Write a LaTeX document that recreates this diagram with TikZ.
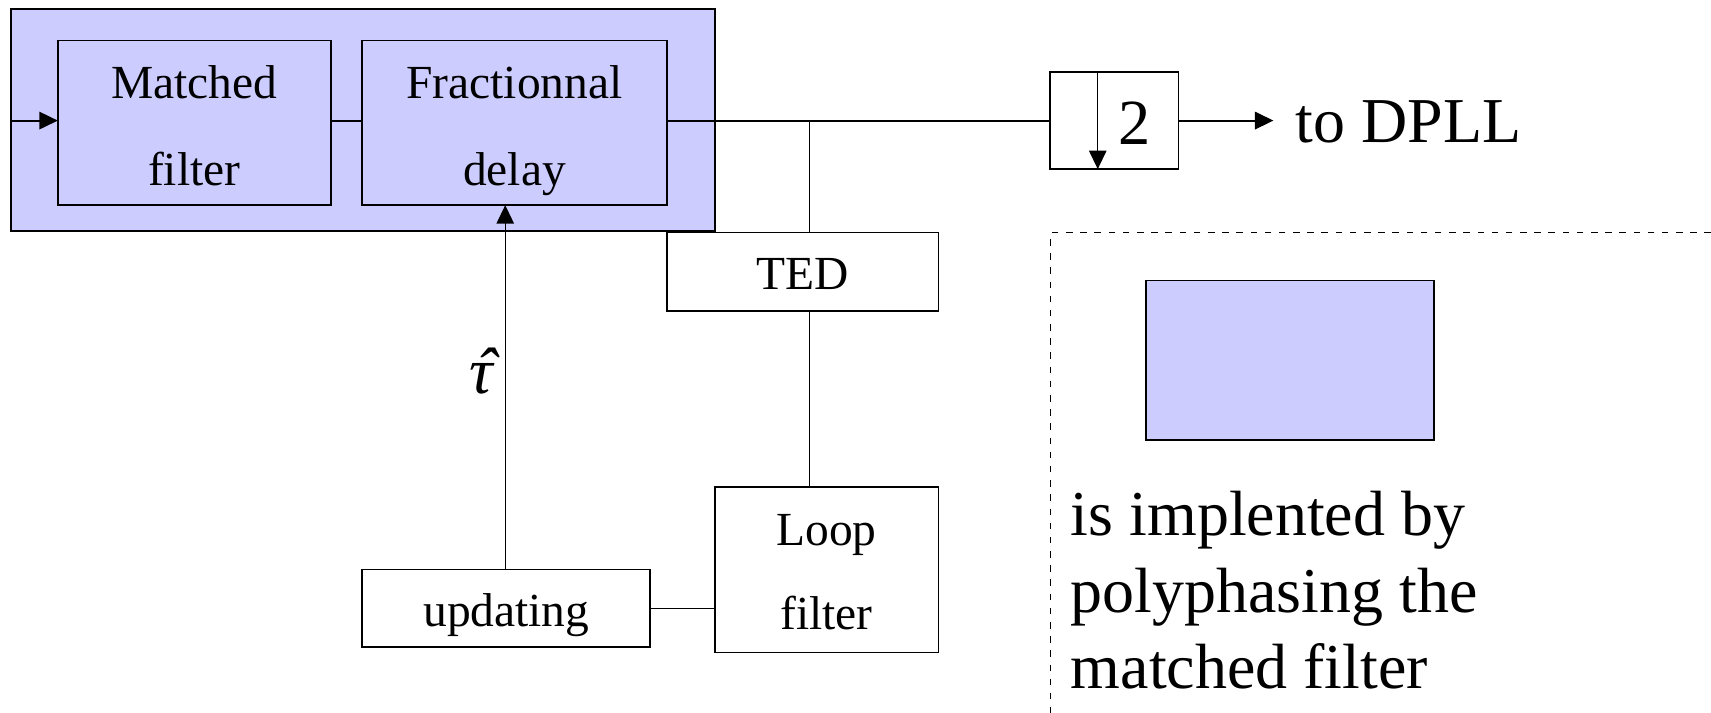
\documentclass[tikz,border=0pt]{standalone}
\usepackage{fontspec}
\setmainfont{Liberation Serif}
\usetikzlibrary{arrows.meta}
\definecolor{filterblue}{RGB}{204,204,255}
\tikzset{
  blockbox/.style={draw=black, line width=0.8pt, inner sep=0pt, outer sep=0pt},
  bluebox/.style={blockbox, fill=filterblue},
  whitebox/.style={blockbox, fill=white},
  boxtext/.style={inner sep=0pt, anchor=base, font=\fontsize{21.75}{24}\selectfont},
  bigtext/.style={inner sep=0pt, anchor=base west, font=\fontsize{29.3}{33}\selectfont},
  signal/.style={line width=0.9pt},
  thinwire/.style={line width=0.65pt},
  tip/.style={-{Triangle[length=8.5pt,width=8pt]}},
  region/.style={line width=0.6pt, dash pattern=on 3pt off 3.5pt}
}
% italic tau with a circumflex set over it
\newcommand{\tauhat}{{\itshape\ooalign{τ\cr\hfil\kern0.08em ˆ\hfil\cr}}}
\begin{document}
\begin{tikzpicture}[x=0.5pt, y=-0.5pt]
\useasboundingbox (0,0) rectangle (1568,653);

% shared levels of the signal path
\coordinate (tap) at (742,110.5);
\coordinate (tauline) at (463,0);
\coordinate (darr) at (1006,0);

% polyphase block holding matched filter and fractional delay
\node[bluebox, minimum width=322.5pt, minimum height=102pt] (outer) at (332.5,110) {};
\node[bluebox, minimum width=125pt, minimum height=75.5pt] (mf) at (178,112.5) {};
\node[bluebox, minimum width=139.5pt, minimum height=75.5pt] (fd) at (471.5,112.5) {};
\node[boxtext] (mft1) at (178,90) {Matched};
\node[boxtext] (mft2) at (178,170) {filter};
\node[boxtext] (fdt1) at (471.5,90) {Fractionnal};
\node[boxtext] (fdt2) at (471.5,170) {delay};

% timing loop
\node[whitebox, minimum width=124.5pt, minimum height=36pt] (ted) at (735.5,249) {};
\node[boxtext] (tedt) at (735.5,265.5) {TED};
\node[whitebox, minimum width=102.5pt, minimum height=76pt] (lf) at (757.5,522) {};
\node[boxtext] (lft1) at (757.5,499.5) {Loop};
\node[boxtext] (lft2) at (757.5,577) {filter};
\node[whitebox, minimum width=132pt, minimum height=35.5pt] (upd) at (464,557.5) {};
\node[boxtext] (updt) at (464,574.5) {updating};

% decimator by 2
\node[whitebox, minimum width=59pt, minimum height=44.5pt] (dec) at (1021,110.5) {};
\node[inner sep=0pt, anchor=base, font=\fontsize{29.5}{33}\selectfont] (dect) at (1039.5,132.5) {2};
\draw[thinwire, tip] (dec.north -| darr) -- (dec.south -| darr);

% signal path
\draw[signal, tip] (outer.west |- tap) -- (mf.west |- tap);
\draw[signal] (mf.east |- tap) -- (fd.west |- tap);
\draw[signal] (fd.east |- tap) -- (dec.west |- tap);
\coordinate (out) at (1167,110.5);
\draw[signal, tip] (dec.east |- tap) -- (out);
\node[bigtext] (dpll) at (1187,131) {to DPLL};

% loop connections
\draw[thinwire] (tap) -- (ted.north -| tap);
\draw[thinwire] (ted.south -| tap) -- (lf.north -| tap);
\draw[thinwire] (upd.east) -- (lf.west |- upd.east);
\draw[thinwire, tip] (upd.north -| tauline) -- (fd.south -| tauline);
\node[inner sep=0pt, anchor=base, font=\fontsize{30}{33}\selectfont] (tau) at (443,361) {\tauhat};

% legend region
\coordinate (regtl) at (963,213);
\coordinate (regtr) at (1568,213);
\coordinate (regbl) at (963,653);
\draw[region] (regtr) -- (regtl) -- (regbl);
\node[bluebox, minimum width=132pt, minimum height=73pt] (legend) at (1182,330) {};
\node[bigtext] (leg1) at (981,491) {is implented by};
\node[bigtext] (leg2) at (981,561) {polyphasing the};
\node[bigtext] (leg3) at (981,631) {matched filter};
\end{tikzpicture}
\end{document}
